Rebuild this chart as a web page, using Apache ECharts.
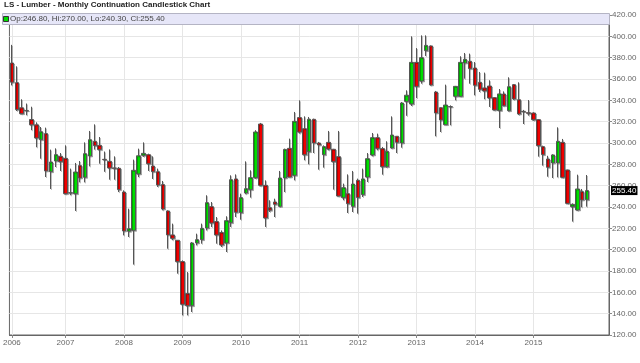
<!DOCTYPE html>
<html><head><meta charset="utf-8">
<script src="https://cdn.jsdelivr.net/npm/echarts@6/dist/echarts.min.js"></script>
<style>html,body{margin:0;padding:0;background:#fff}#c{width:640px;height:363px}</style>
</head><body><div id="c"></div>
<script>
// ---- data (monthly, Feb 2006 .. Dec 2015) ----
const chartTitle = 'LS - Lumber - Monthly Continuation Candlestick Chart';
const startYear = 2006, startMonth = 2, slotCount = 123;
const opens = [375,356.6,333,330.5,322,317,303.1,308.8,273.1,283.1,
287.5,285.6,253.1,252.5,278.8,267.8,287.8,301.6,297.8,284.7,
282.8,276.6,276.3,254,217.2,218.1,271,288.4,289,278.4,
273.1,261,236.3,213.8,208.8,188.8,158.8,147.5,206.3,209.4,
220.3,240.3,226.3,216,206.3,225.3,266.3,234.7,253.1,256.3,
267.5,317.8,260.3,239.4,244.7,240.6,267.2,295,269.7,323.8,
313.4,291.9,322.2,300,289,300.6,294.1,287.2,248.8,252.5,
240.6,265,251.6,268.1,288.8,305,294.7,277.8,295.3,306.3,
300,339,336.6,375.6,358.1,386.6,391,347.8,333.1,317.2,
334,343.8,343.8,375,376.6,370.3,356.9,351.6,353.4,342.5,
330.5,345.9,330.3,354.7,340.6,329.7,328.4,328.1,321.9,296.6,
285,281.3,281.3,300.6,274.7,240.3,237.2,254.4,246.8];
const closes = [357,331.3,327.5,330.3,317,304.7,310.6,273.8,282.2,289.1,
282.5,252.5,253.4,272.8,267.2,290,303.1,297.5,293.8,284.4,
276.6,276.3,256.3,217.5,219.7,274.4,288,290.3,280.6,273.1,
260.6,238.1,213.8,210.6,188.8,148.8,147.5,206.3,209.4,220,
244.1,225,213.8,204.4,227.2,265.6,235,248.8,257.2,267.5,
310.3,260.3,229.7,236.9,242.5,267.2,294,268.1,320.3,310.3,
289,322.2,300,298.1,296.6,294.4,282.5,250.3,258.1,243.1,
261.5,248.8,266.3,285.3,305,295,277.8,292.2,307.5,300.6,
337.5,344.8,375.6,353.1,380,391.5,354.4,328.1,321.6,335.6,
334.1,353.1,375.6,378.4,369.7,354.1,350.3,348.8,342.2,331,
346,335,352.8,341.3,327.2,329.5,327.8,321.9,297.5,289.1,
277.2,288.8,301.6,267.8,243.4,242.5,256.9,246.6,255.4];
const highs = [392,371.9,341,337,334,319.4,315,314.4,293.8,295,
290.6,297.8,276,281.3,283.1,300.6,311.3,317.5,305.6,292,
294,287.5,277.5,255.6,238.4,284.4,294.7,300.6,290,287.5,
276,264.4,236.9,224.4,209,190,179,207.2,215,224.4,
251,244.7,230.6,218,231.3,269.7,270.6,252.5,282.8,274.4,
312,318.8,265,246.3,247.8,273.8,294.7,304.1,329.1,340,
325,324.4,322.8,301,297.8,311.3,294.5,311.3,261.9,270.6,
273.8,266.6,276,290.6,309.4,308.8,296.3,301.6,325,306.5,
338.4,349.4,400,389,400.9,400.9,391.5,348.8,333.5,354.7,
335.3,353.5,381.3,384.4,383.8,375.9,366.6,366,358.8,343,
350.6,348.4,361.6,355.3,356.9,331,340.3,328.8,322.5,297.5,
288,289.5,314.7,303.8,275,243.4,270.3,256.9,270];
const lows = [354,330,327,326,312,296,285.3,268.1,256.9,277.5,
273.8,251.9,251,236.3,263.1,263.1,278.1,293.8,280.6,273,
265.6,265.6,254,213.4,211.9,186,268,287,273.8,266.3,
258.8,236.9,200.9,208.8,177.5,138.4,138.4,141.6,204,205.6,
218,221.3,205.6,202.5,197.8,221.3,230.6,228.1,252,248.8,
266.5,259.4,221.3,235.3,230.6,240,254,268,265,308.8,
283.8,280,290.6,275,276.9,293.1,256.3,250,246.3,234.4,
235.3,233.8,249.4,263.4,287.5,293.1,270.3,277,295,290.6,
295.6,325.5,334.7,342.2,355.6,381.6,354,306.3,310.3,317,
316.6,340,343.5,360.3,355.6,344.7,347.8,341,333.8,330.5,
314,334.5,329.7,340.5,326.3,317.8,325.6,321,287.2,278.8,
268.4,267.2,267.8,267.2,242.8,226.3,236.6,239.7,240.3];
const yMin = 120, yMax = 420, yStep = 20;

// ---- build ----
const months = [];
for (let i = 0; i < slotCount; i++) {
  const m0 = startMonth - 1 + i;
  const y = startYear + Math.floor(m0 / 12);
  const m = (m0 % 12) + 1;
  months.push(y + '-' + (m < 10 ? '0' + m : m));
}
const candles = opens.map((o, i) => [o, closes[i], lows[i], highs[i]]);
const last = opens.length - 1;
const f2 = v => Number(v).toFixed(2);
const legendText = 'Op:' + f2(opens[last]) + ', Hi:' + f2(highs[last]) + ', Lo:' + f2(lows[last]) + ', Cl:' + f2(closes[last]);
const yearFn = (i, v) => i < opens.length && (i === 0 || String(v).slice(5) === '01');

const chart = echarts.init(document.getElementById('c'), null, {renderer: 'canvas'});
chart.setOption({
  animation: false,
  backgroundColor: '#fff',
  textStyle: {fontFamily: 'Liberation Sans'},
  title: {
    text: chartTitle, left: 4, top: 1, padding: 0,
    textStyle: {fontSize: 8, fontWeight: 'bold', color: '#222', fontFamily: 'Liberation Sans'}
  },
  grid: {left: 7, right: 31, top: 15, bottom: 28, show: true, borderColor: '#666', borderWidth: 1},
  xAxis: {
    type: 'category', data: months, boundaryGap: true,
    axisLine: {show: true, lineStyle: {color: '#666'}},
    axisTick: {show: true, alignWithLabel: true, interval: yearFn, length: 3, lineStyle: {color: '#888'}},
    axisLabel: {interval: yearFn, formatter: v => v.slice(0, 4), color: '#666', fontSize: 8, margin: 4},
    splitLine: {show: true, interval: yearFn, alignWithLabel: true, lineStyle: {color: '#e6e6e6'}}
  },
  yAxis: {
    type: 'value', position: 'right', min: yMin, max: yMax, interval: yStep, scale: true,
    axisLine: {show: true, lineStyle: {color: '#666'}},
    axisTick: {show: true, length: 3, lineStyle: {color: '#888'}},
    axisLabel: {formatter: v => f2(v), color: '#666', fontSize: 8, margin: 3},
    splitLine: {show: true, lineStyle: {color: '#e6e6e6'}}
  },
  graphic: [
    {type: 'rect', left: 2, top: 13, z: 100, shape: {width: 607, height: 11},
     style: {fill: '#e6e6f8', stroke: '#b4b4c4', lineWidth: 1}},
    {type: 'rect', left: 3, top: 16, z: 101, shape: {width: 5, height: 5},
     style: {fill: '#00dd00', stroke: '#333', lineWidth: 1}},
    {type: 'text', left: 10, top: 14.5, z: 101,
     style: {text: legendText, fill: '#444', font: '8px "Liberation Sans"'}}
  ],
  series: [{
    type: 'candlestick',
    data: candles,
    barWidth: 4,
    itemStyle: {
      color: '#00dd00', color0: '#ee0000',
      borderColor: '#555', borderColor0: '#555', borderWidth: 1,
      shadowColor: 'rgba(0,0,0,0.25)', shadowOffsetX: 1, shadowOffsetY: 1, shadowBlur: 0
    },
    markLine: {
      silent: true, symbol: 'none',
      lineStyle: {color: 'transparent', width: 0},
      label: {show: true, position: 'end', distance: 2, formatter: p => f2(p.value),
              backgroundColor: '#000', color: '#fff', fontSize: 8, padding: [1, 1, 0, 1]},
      data: [{yAxis: closes[last]}]
    }
  }]
});
</script></body></html>
